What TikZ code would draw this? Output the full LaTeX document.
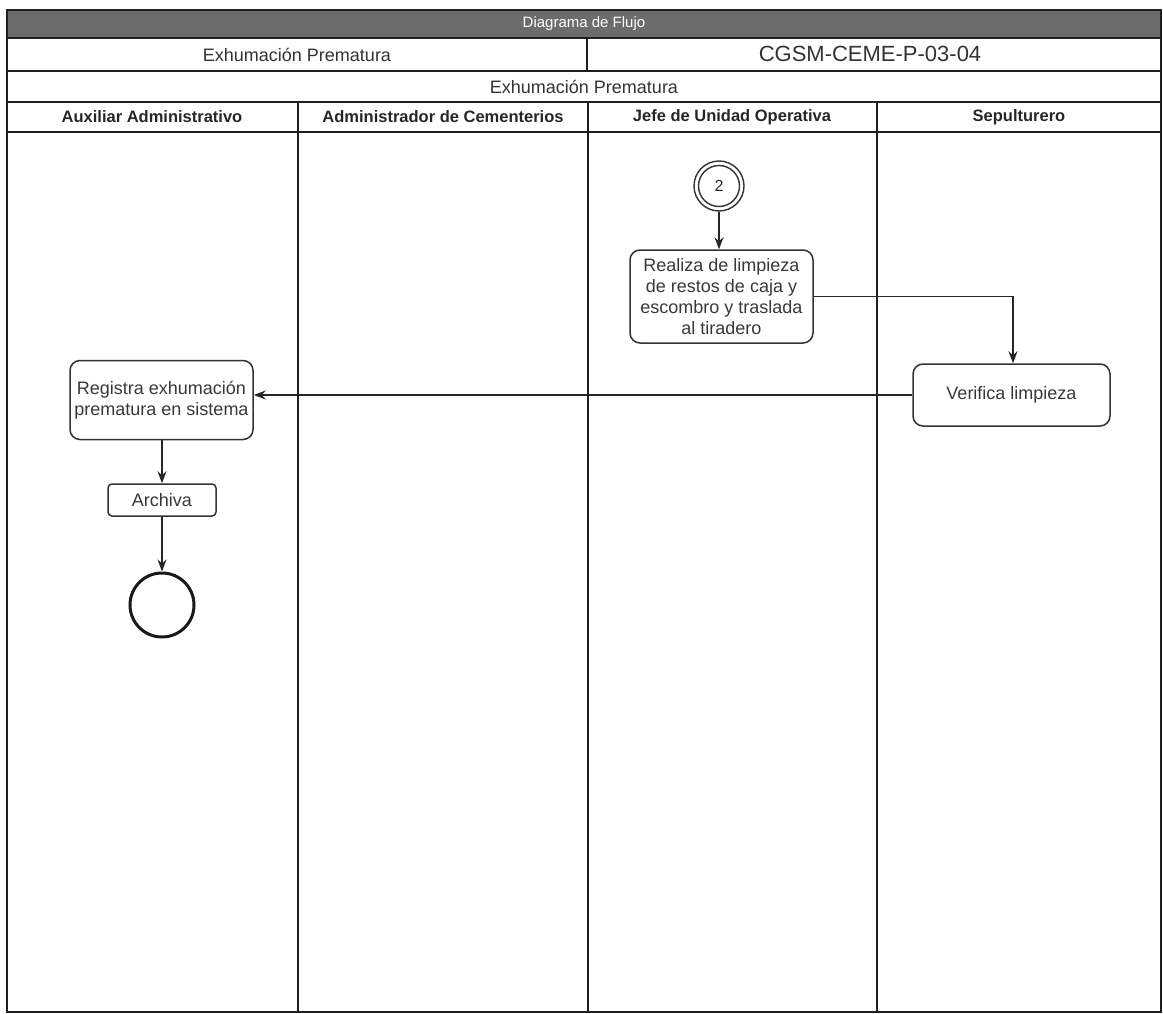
\documentclass[tikz,border=0pt]{standalone}
\usepackage{fontspec}
\setmainfont{Liberation Sans}
\usetikzlibrary{arrows.meta}
\begin{document}
\begin{tikzpicture}[x=1pt,y=-1pt,
  frameline/.style={draw=black!88, line width=1.7pt},
  hdrtext/.style={font=\fontsize{18}{21}\selectfont, text=black!80},
  codetext/.style={font=\fontsize{22}{25}\selectfont, text=black!80},
  lanetext/.style={font=\bfseries\fontsize{16.5}{20}\selectfont, text=black!85},
  titletext/.style={font=\fontsize{15}{18}\selectfont, text=white!92},
  task/.style={draw=black!80, line width=1.5pt, rounded corners=10pt, align=center,
    font=\fontsize{18}{21}\selectfont, text=black!78, inner sep=1pt},
  flow/.style={draw=black!85, line width=1.5pt, -{Stealth[length=12pt,width=9pt]}},
]
\useasboundingbox (0,0) rectangle (1163,1014);
% title bar
\fill[gray!85!black] (7,10) rectangle (1161,38);
\node[titletext] (title) at (584,24) {Diagrama de Flujo};
% frame and rows
\draw[frameline] (7,10) rectangle (1161,1012);
\draw[frameline] (7,38) -- (1161,38);
\draw[frameline] (7,71) -- (1161,71);
\draw[frameline] (7,102) -- (1161,102);
\draw[frameline] (7,132) -- (1161,132);
\draw[frameline] (587,38) -- (587,71);
\draw[frameline] (298,102) -- (298,1012);
\draw[frameline] (588,102) -- (588,1012);
\draw[frameline] (877,102) -- (877,1012);
% header texts
\node[hdrtext] (proc) at (297,55) {Exhumación Prematura};
\node[codetext] (code) at (870,54) {CGSM-CEME-P-03-04};
\node[hdrtext] (sub) at (584,87) {Exhumación Prematura};
\node[lanetext] (l1) at (152,117) {Auxiliar Administrativo};
\node[lanetext] (l2) at (443,117) {Administrador de Cementerios};
\node[lanetext] (l3) at (732,117) {Jefe de Unidad Operativa};
\node[lanetext] (l4) at (1019,117) {Sepulturero};
% nodes
\node[circle, draw=black!80, line width=1.4pt, minimum size=50pt, inner sep=0pt,
  font=\fontsize{16}{18}\selectfont, text=black!85] (start) at (719,186) {2};
\draw[black!80, line width=1.4pt] (start.center) circle[radius=20.5];
\node[task, minimum width=183pt, minimum height=93pt] (limp) at (721.5,296.5)
  {Realiza de limpieza\\de restos de caja y\\escombro y traslada\\al tiradero};
\node[task, minimum width=197pt, minimum height=62pt] (ver) at (1011.5,395)
  {Verifica limpieza};
\node[task, minimum width=183pt, minimum height=79pt] (reg) at (161.5,400)
  {Registra exhumación\\prematura en sistema};
\node[task, rounded corners=4pt, minimum width=108pt, minimum height=32pt] (arch) at (162,500)
  {Archiva};
\node[circle, draw=black!90, line width=3pt, minimum size=64pt, inner sep=0pt] (fin) at (162,605) {};
% connectors
\draw[flow] (start.south) -- (limp.north -| start.south);
\coordinate (bend) at (limp.east -| 1013,0);
\draw[flow] (limp.east) -- (bend) -- (bend |- ver.north);
\draw[flow] (ver.west) -- (ver.west -| reg.east);
\draw[flow] (reg.south -| arch.north) -- (arch.north);
\draw[flow] (arch.south) -- (fin.north);
\end{tikzpicture}
\end{document}
